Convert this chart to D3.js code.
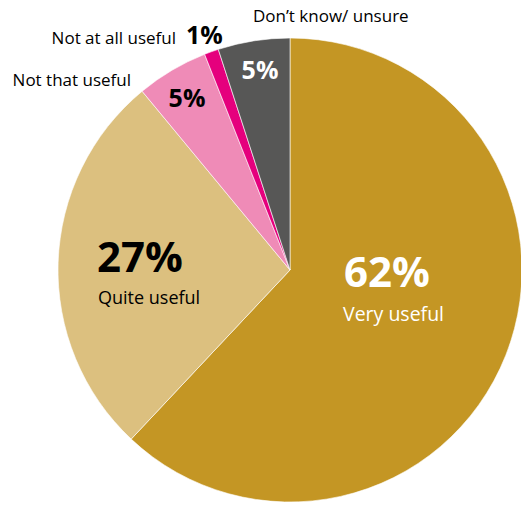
<!DOCTYPE html>
<html>
<head>
<meta charset="utf-8">
<script src="https://cdn.jsdelivr.net/npm/d3@7"></script>
<style>
  body { margin: 0; background: #fff; }
  text { font-family: "Open Sans", Lato, sans-serif; }
</style>
</head>
<body>
<div id="chart"></div>
<script>
// data
var categories = ["Very useful", "Quite useful", "Not that useful", "Not at all useful", "Don\u2019t know/ unsure"];
var values = [62, 27, 5, 1, 5];
var colors = ["#C49624", "#DCC07F", "#EF8BB7", "#E5007D", "#575756"];

var width = 521, height = 506;
var cx = 290, cy = 270, radius = 232;

var svg = d3.select("#chart")
    .append("svg")
    .attr("width", width)
    .attr("height", height);

var g = svg.append("g")
    .attr("transform", "translate(" + cx + "," + cy + ")");

var pie = d3.pie().sort(null).value(function (d) { return d; });
var arcs = pie(values);

var arc = d3.arc().innerRadius(0).outerRadius(radius);

g.selectAll("path.slice")
    .data(arcs)
    .enter()
    .append("path")
    .attr("class", "slice")
    .attr("d", arc)
    .style("fill", function (d, i) { return colors[i]; })
    .style("stroke", "#fff")
    .style("stroke-width", 0.6);

function label(x, y, txt, size, bold, fill, anchor) {
    g.append("text")
        .attr("x", x - cx).attr("y", y - cy)
        .attr("text-anchor", anchor || "start")
        .style("font-size", size + "px")
        .style("font-weight", bold ? 700 : 400)
        .style("fill", fill)
        .text(txt);
}

// Very useful
label(344, 287, values[0] + "%", 42, true, "#fff");
label(343, 321, categories[0], 19.5, false, "#fff");

// Quite useful
label(97, 272, values[1] + "%", 42, true, "#000");
label(98, 304, categories[1], 18, false, "#000");

// Not that useful
label(187, 107, values[2] + "%", 25, true, "#000", "middle");
label(131, 86, categories[2], 17, false, "#000", "end");

// Not at all useful
label(176, 44, categories[3], 17, false, "#000", "end");
label(186, 44, values[3] + "%", 25, true, "#000");

// Don't know / unsure
label(260, 79, values[4] + "%", 25, true, "#fff", "middle");
label(253, 22, categories[4], 17, false, "#000");
</script>
</body>
</html>
